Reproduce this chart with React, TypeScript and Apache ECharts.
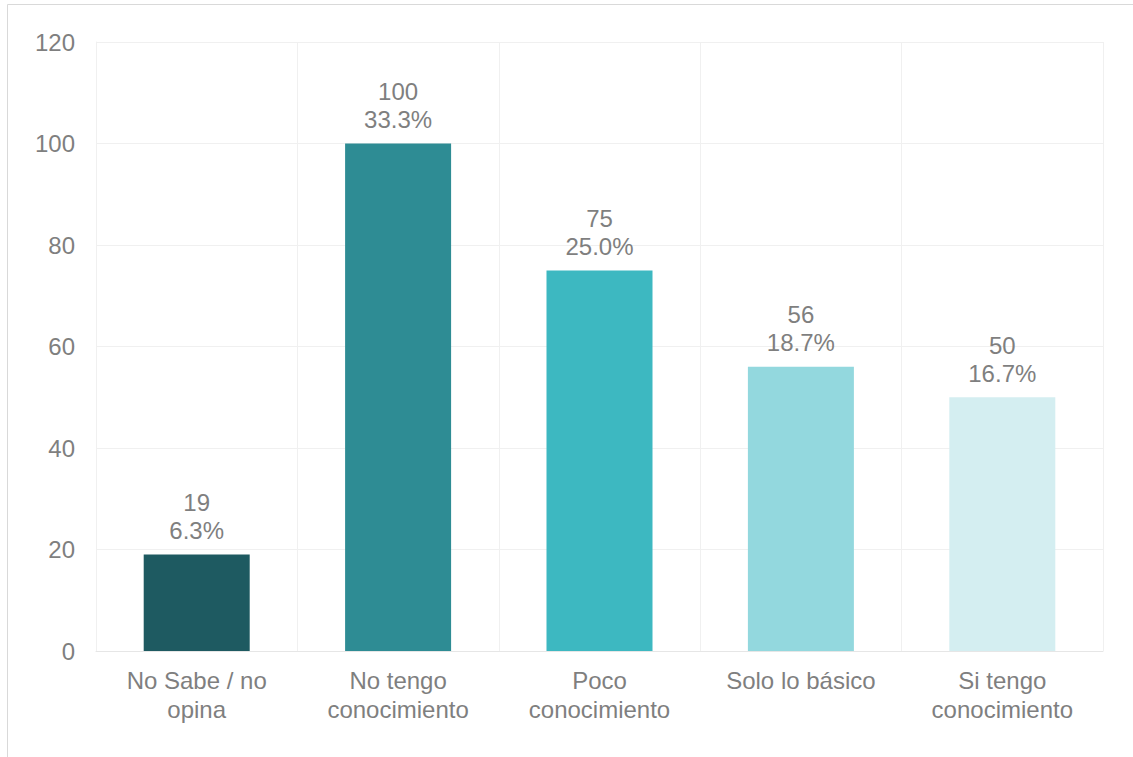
import React, { useEffect, useRef } from "react";
import * as echarts from "echarts";

const categories = ["No Sabe / no\nopina", "No tengo\nconocimiento", "Poco\nconocimiento", "Solo lo básico", "Si tengo\nconocimiento"];
const values = [19, 100, 75, 56, 50];
const percents = ["6.3%", "33.3%", "25.0%", "18.7%", "16.7%"];
const colors = ["#1e5a61", "#2e8c94", "#3db8c1", "#93d8de", "#d4eef1"];
const yTicks = { min: 0, max: 120, interval: 20 };

const FONT = "Arial, 'Liberation Sans', sans-serif";

export default function App() {
  const ref = useRef<HTMLDivElement>(null);
  useEffect(() => {
    if (!ref.current) return;
    const chart = echarts.init(ref.current, undefined, { renderer: "svg" });
    chart.setOption({
      animation: false,
      backgroundColor: "#ffffff",
      textStyle: { fontFamily: FONT },
      grid: { left: 96, top: 42, right: 30, bottom: 106, containLabel: false },
      graphic: [
        { type: "line", shape: { x1: 7.5, y1: 4.5, x2: 1133, y2: 4.5 }, style: { stroke: "#d9d9d9", lineWidth: 1 } },
        { type: "line", shape: { x1: 7.5, y1: 4.5, x2: 7.5, y2: 757 }, style: { stroke: "#d9d9d9", lineWidth: 1 } },
      ],
      xAxis: {
        type: "category",
        data: categories,
        axisTick: { show: false },
        axisLine: { show: true, lineStyle: { color: "#e6e6e6", width: 1 } },
        splitLine: { show: true, lineStyle: { color: "#f0f0f0", width: 1 } },
        axisLabel: {
          color: "#7f7f7f",
          fontFamily: FONT,
          fontSize: 24,
          lineHeight: 29,
          margin: 15,
          interval: 0,
        },
      },
      yAxis: {
        type: "value",
        min: yTicks.min,
        max: yTicks.max,
        interval: yTicks.interval,
        axisLine: { show: true, lineStyle: { color: "#f0f0f0" } },
        axisTick: { show: false },
        splitLine: { show: true, lineStyle: { color: "#f0f0f0", width: 1 } },
        axisLabel: { color: "#7f7f7f", fontFamily: FONT, fontSize: 24, margin: 21 },
      },
      series: [
        {
          type: "bar",
          barWidth: 106,
          data: values.map((v, i) => ({ value: v, itemStyle: { color: colors[i] } })),
          label: {
            show: true,
            position: "top",
            distance: 10,
            color: "#7f7f7f",
            fontFamily: FONT,
            fontSize: 24,
            lineHeight: 28,
            formatter: (p: any) => `${values[p.dataIndex]}\n${percents[p.dataIndex]}`,
          },
        },
      ],
    });
    return () => chart.dispose();
  }, []);
  return (
    <div
      ref={ref}
      style={{ position: "absolute", left: 0, top: 0, width: 1133, height: 757 }}
    />
  );
}
